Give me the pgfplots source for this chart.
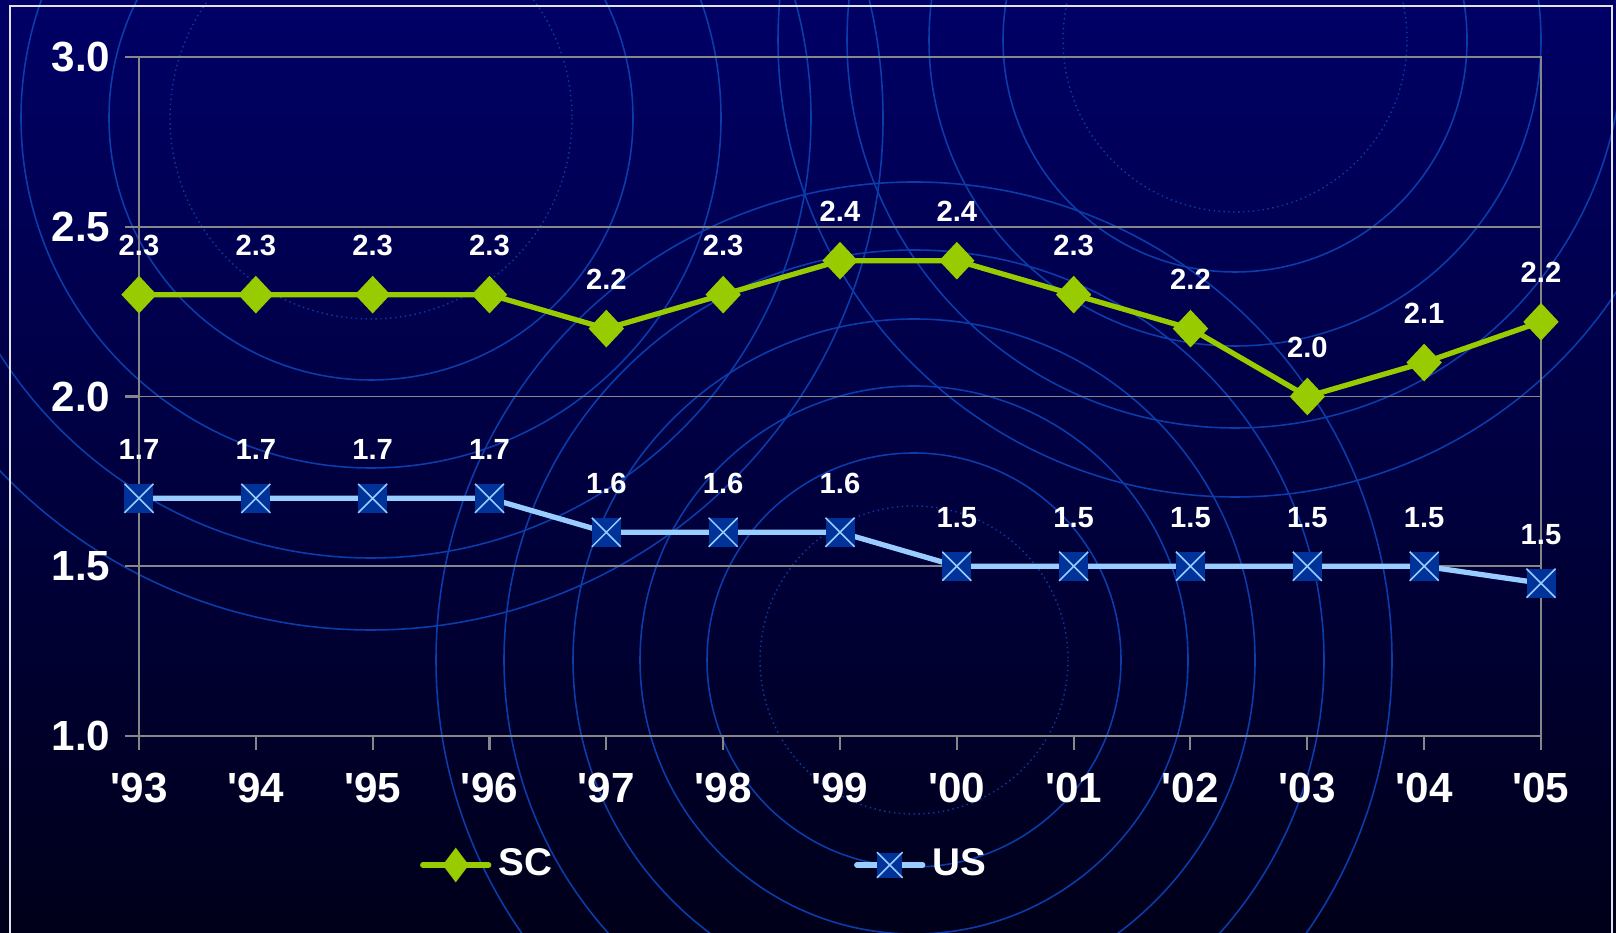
\documentclass[border=0pt]{standalone}
\usepackage{fontspec}
\setmainfont{Liberation Sans}
\usepackage{pgfplots}
\pgfplotsset{compat=1.18}

\definecolor{bgtop}{RGB}{0,0,102}
\definecolor{bgmid}{RGB}{0,0,90}
\definecolor{bgbot}{RGB}{0,0,26}
\definecolor{ring}{RGB}{10,60,170}
\definecolor{scgreen}{RGB}{153,204,0}
\definecolor{usline}{RGB}{153,204,255}
\definecolor{usfill}{RGB}{0,51,153}
\definecolor{gridgray}{RGB}{135,135,135}
\definecolor{framecol}{RGB}{225,225,235}

% square marker with a light cross inside
\pgfdeclareplotmark{boxx}{%
  \pgfpathrectangle{\pgfqpoint{-\pgfplotmarksize}{-\pgfplotmarksize}}{\pgfqpoint{2\pgfplotmarksize}{2\pgfplotmarksize}}%
  \pgfsetfillcolor{usfill}\pgfusepath{fill}%
  \pgfpathmoveto{\pgfqpoint{-\pgfplotmarksize}{-\pgfplotmarksize}}%
  \pgfpathlineto{\pgfqpoint{\pgfplotmarksize}{\pgfplotmarksize}}%
  \pgfpathmoveto{\pgfqpoint{-\pgfplotmarksize}{\pgfplotmarksize}}%
  \pgfpathlineto{\pgfqpoint{\pgfplotmarksize}{-\pgfplotmarksize}}%
  \pgfsetstrokecolor{usline}\pgfsetlinewidth{0.45pt}\pgfusepath{stroke}%
}

\newcommand\tickfont{\fontsize{12}{14}\selectfont\bfseries}
\newcommand\valfont{\fontsize{8.3}{10}\selectfont\bfseries}
\newcommand\legfont{\fontsize{11}{13}\selectfont\bfseries}

\begin{document}
\begin{tikzpicture}
\useasboundingbox (0,0) rectangle (161.6mm,93.3mm);
\shade[top color=bgtop, middle color=bgmid, bottom color=bgbot] (0,0) rectangle (161.6mm,93.3mm);

% decorative rings, pixel units with y downward
\begin{scope}[x=0.1mm, y=-0.1mm, shift={(0,93.3mm)}]
  \clip (0,0) rectangle (1616,933);
  \draw[ring, line width=0.4pt, densely dotted] (371,118) circle[radius=201];
  \foreach \r in {262,350,440,512}
    \draw[ring, line width=0.45pt] (371,118) circle[radius=\r];
  \draw[ring, line width=0.4pt, densely dotted] (1235,40) circle[radius=172];
  \foreach \r in {232,306,388,457}
    \draw[ring, line width=0.45pt] (1235,40) circle[radius=\r];
  \draw[ring, line width=0.4pt, densely dotted] (914,660) circle[radius=154];
  \foreach \r in {207,274,341,410,478}
    \draw[ring, line width=0.45pt] (914,660) circle[radius=\r];
\end{scope}

\draw[framecol, line width=0.6pt] (1.0mm,-1mm) -- (1.0mm,92.7mm) -- (161.2mm,92.7mm) -- (161.2mm,-1mm);

\begin{axis}[
  at={(13.9mm,19.7mm)}, anchor=south west,
  scale only axis, width=140.2mm, height=67.9mm,
  xmin=1993, xmax=2005, ymin=1, ymax=3,
  xtick={1993,...,2005},
  xticklabels={\textquotesingle93,\textquotesingle94,\textquotesingle95,\textquotesingle96,\textquotesingle97,\textquotesingle98,\textquotesingle99,\textquotesingle00,\textquotesingle01,\textquotesingle02,\textquotesingle03,\textquotesingle04,\textquotesingle05},
  ytick={1,1.5,2,2.5,3},
  y tick label style={/pgf/number format/fixed, /pgf/number format/fixed zerofill,
    /pgf/number format/precision=1, /pgf/number format/assume math mode=true},
  xtick pos=left, ytick pos=left,
  tick align=outside, major tick length=1.4mm,
  axis line style={gridgray, line width=0.6pt},
  tick style={gridgray, line width=0.6pt},
  ymajorgrids, grid style={gridgray, line width=0.5pt},
  tick label style={font=\tickfont, text=white, inner sep=0pt},
  yticklabel style={anchor=east, xshift=-1.4mm},
  xticklabel style={anchor=north, yshift=-2.2mm},
  clip=false,
  point meta=explicit symbolic,
  nodes near coords,
  every node near coord/.style={font=\valfont, text=white, anchor=center, yshift=4.9mm},
  legend columns=2,
  legend cell align=left,
  legend style={at={(axis description cs:0.2,-0.19)}, anchor=west, draw=none, fill=none,
    font=\legfont, text=white, inner sep=0pt,
    /tikz/every even column/.append style={column sep=29.5mm}},
]
\addplot[scgreen, line width=1.5pt, mark=diamond*, mark size=1.5mm,
  mark options={xscale=1.25, solid, fill=scgreen},
  legend image code/.code={\draw[scgreen, line width=1.5pt, line cap=round, mark=diamond*,
      mark size=1.3mm, mark options={fill=scgreen}, mark repeat=2, mark phase=2]
    plot coordinates {(0mm,0mm) (3.3mm,0mm) (6.6mm,0mm)};}]
  coordinates {
  (1993,2.3)[2.3] (1994,2.3)[2.3] (1995,2.3)[2.3] (1996,2.3)[2.3]
  (1997,2.2)[2.2] (1998,2.3)[2.3] (1999,2.4)[2.4] (2000,2.4)[2.4]
  (2001,2.3)[2.3] (2002,2.2)[2.2] (2003,2.0)[2.0] (2004,2.1)[2.1]
  (2005,2.22)[2.2]
};
\addlegendentry{SC}
\addplot[usline, line width=1.5pt, mark=boxx, mark size=1.45mm,
  legend image code/.code={\draw[usline, line width=1.5pt, line cap=round, mark=boxx,
      mark size=1.25mm, mark repeat=2, mark phase=2]
    plot coordinates {(0mm,0mm) (3.3mm,0mm) (6.6mm,0mm)};}]
  coordinates {
  (1993,1.7)[1.7] (1994,1.7)[1.7] (1995,1.7)[1.7] (1996,1.7)[1.7]
  (1997,1.6)[1.6] (1998,1.6)[1.6] (1999,1.6)[1.6] (2000,1.5)[1.5]
  (2001,1.5)[1.5] (2002,1.5)[1.5] (2003,1.5)[1.5] (2004,1.5)[1.5]
  (2005,1.45)[1.5]
};
\addlegendentry{US}
\end{axis}
\end{tikzpicture}
\end{document}
